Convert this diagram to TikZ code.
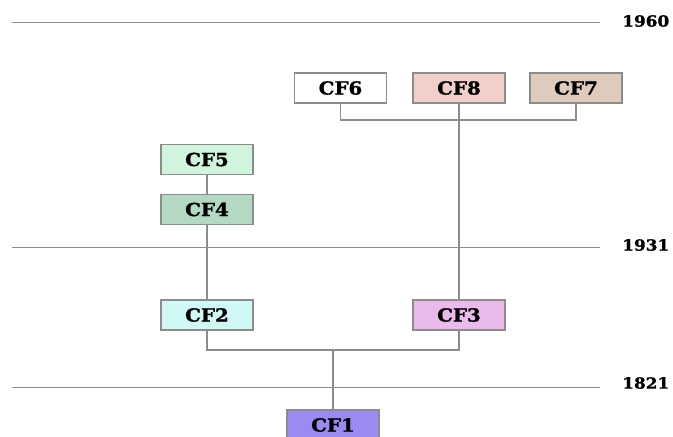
\documentclass[tikz,border=0pt]{standalone}
\usepackage{fontspec}
\setmainfont{Liberation Serif}
\newfontfamily\cffont[FakeStretch=1.1,FakeBold=1.2]{DejaVu Serif Bold}
\definecolor{cfone}{HTML}{9B8AF2}
\definecolor{cftwo}{HTML}{CFF8F6}
\definecolor{cfthree}{HTML}{EABAEA}
\definecolor{cffour}{HTML}{B3D9C3}
\definecolor{cffive}{HTML}{CFF6DD}
\definecolor{cfseven}{HTML}{DECBBB}
\definecolor{cfeight}{HTML}{F2D0C9}
\definecolor{linegray}{HTML}{8C8C8C}
\tikzset{
  cfbox/.style={draw=linegray,line width=0.8pt,minimum width=69pt,minimum height=22.5pt,
    inner sep=0pt,font=\cffont\fontsize{13.5}{16}\selectfont},
  yearline/.style={draw=linegray,line width=0.6pt},
  yearlabel/.style={anchor=west,inner sep=0pt,font=\cffont\fontsize{11.5}{14}\selectfont},
  link/.style={draw=linegray,line width=0.8pt}
}
\begin{document}
\begin{tikzpicture}[x=0.75pt,y=-0.75pt]
      \useasboundingbox (0,0) rectangle (673,436);
      % time lines
      \draw[yearline] (12,22) -- (600,22);   \node[yearlabel] (y1960) at (622,21) {1960};
      \draw[yearline] (12,247) -- (600,247); \node[yearlabel] (y1931) at (622,245) {1931};
      \draw[yearline] (12,387) -- (600,387); \node[yearlabel] (y1821) at (622,383) {1821};
      % boxes
      \node[cfbox,fill=white]   (cf6) at (340.5,88)  {CF6};
      \node[cfbox,fill=cfeight] (cf8) at (459,88)    {CF8};
      \node[cfbox,fill=cfseven] (cf7) at (576,88)    {CF7};
      \node[cfbox,fill=cffive]  (cf5) at (207,159.5) {CF5};
      \node[cfbox,fill=cffour]  (cf4) at (207,209.5) {CF4};
      \node[cfbox,fill=cftwo]   (cf2) at (207,315)   {CF2};
      \node[cfbox,fill=cfthree] (cf3) at (459,315)   {CF3};
      \node[cfbox,fill=cfone]   (cf1) at (333,425)   {CF1};
      % links
      \draw[link] (cf6.south) |- (459,120) -| (cf7.south);
      \draw[link] (cf8.south) -- (cf3.north);
      \draw[link] (cf5.south) -- (cf4.north);
      \draw[link] (cf4.south) -- (cf2.north);
      \draw[link] (cf2.south) |- (333,350) -| (cf3.south);
      \draw[link] (333,350) -- (cf1.north);
\end{tikzpicture}
\end{document}
